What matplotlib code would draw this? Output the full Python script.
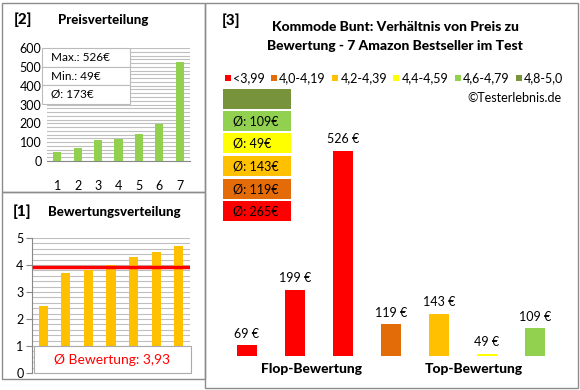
"""Kommode Bunt: Preis/Bewertung-Übersicht (drei Panels)."""
import matplotlib
matplotlib.use("Agg")
import matplotlib.pyplot as plt
from matplotlib.patches import Rectangle
import numpy as np

plt.rcParams["font.family"] = ["Lato", "DejaVu Sans"]

# Daten: Produkte sortiert nach Bewertung
prices = [69, 199, 526, 119, 143, 49, 109]
ratings = [2.5, 3.7, 3.8, 4.0, 4.3, 4.5, 4.7]
band_labels = ["<3,99", "4,0-4,19", "4,2-4,39", "4,4-4,59", "4,6-4,79", "4,8-5,0"]
band_edges = [0, 4.0, 4.2, 4.4, 4.6, 4.8, 5.01]
band_colors = ["#FF0000", "#E36C09", "#FFC000", "#FFFF00", "#92D050", "#77933C"]
group_labels = ["Flop-Bewertung", "Top-Bewertung"]

W, H = 580, 390
fig = plt.figure(figsize=(W / 100, H / 100), dpi=100)
GRID = "#BFBFBF"
BORDER = "#8C8C8C"
HEAVY = 900


def px_axes(x0, y0, x1, y1):
    return fig.add_axes([x0 / W, 1 - y1 / H, (x1 - x0) / W, (y1 - y0) / H])


def px_text(x, y, s, **kw):
    return fig.text(x / W, 1 - y / H, s, **kw)


def px_rect(x0, y0, x1, y1, **kw):
    fig.add_artist(Rectangle((x0 / W, 1 - y1 / H), (x1 - x0) / W, (y1 - y0) / H,
                             transform=fig.transFigure, **kw))


# Panel-Rahmen
px_rect(2, 3, 205, 192, fill=False, ec=BORDER, lw=1)
px_rect(2, 192, 205, 379, fill=False, ec=BORDER, lw=1)
px_rect(205, 3, 578, 388, fill=False, ec=BORDER, lw=1)

bands = np.digitize(ratings, band_edges[1:])
x = np.arange(1, len(prices) + 1)

# [2] Preisverteilung
ax = px_axes(47, 48, 190, 161)
ax.bar(x, sorted(prices), width=0.4, color="#92D050", zorder=3)
ax.set_xlim(0.5, 7.5)
ax.set_ylim(0, 600)
ax.set_yticks(range(0, 601, 100))
ax.set_yticks(range(0, 601, 20), minor=True)
ax.set_xticks(x)
ax.grid(axis="y", which="both", color=GRID, lw=0.8, zorder=0)
for s in ["top", "right", "left"]:
    ax.spines[s].set_visible(False)
ax.spines["bottom"].set_color("#888888")
ax.tick_params(axis="y", which="both", length=0, labelsize=9, pad=4)
ax.tick_params(axis="x", length=0, labelsize=9, pad=14)
px_text(14, 20, "[2]", fontsize=11, fontweight=HEAVY, va="center")
px_text(58, 20, "Preisverteilung", fontsize=9.5, fontweight=HEAVY, va="center")
stats = [f"Max.: {max(prices)}€", f"Min.: {min(prices)}€", f"Ø: {round(np.mean(prices))}€"]
rows = [48, 67, 85, 104]
for i, s in enumerate(stats):
    px_rect(42, rows[i], 130, rows[i + 1], fc="white", ec="#BBBBBB", lw=0.8, zorder=5)
    px_text(51, (rows[i] + rows[i + 1]) / 2, s, fontsize=8.5, va="center", zorder=6)

# [1] Bewertungsverteilung
ax = px_axes(32, 238, 190, 373)
ax.bar(x, ratings, width=0.4, color="#FFC000", zorder=3)
mean_r = np.mean(ratings)
ax.plot([0.6, 7.4], [mean_r, mean_r], color="#FF0000", lw=2.5, zorder=4)
ax.set_xlim(0.5, 7.5)
ax.set_ylim(0, 5)
ax.set_yticks(range(0, 6))
ax.set_yticks(np.arange(0, 5.01, 0.2), minor=True)
ax.set_xticks([])
ax.grid(axis="y", which="both", color=GRID, lw=0.8, zorder=0)
for s in ["top", "right", "bottom"]:
    ax.spines[s].set_visible(False)
ax.spines["left"].set_color("#888888")
ax.tick_params(axis="y", which="major", length=4, color="#888888", labelsize=9, pad=2)
ax.tick_params(axis="y", which="minor", length=0)
ax.add_patch(Rectangle((0.59, 0), 6.94, 1, fc="white", ec="#AAAAAA", lw=0.8,
                       zorder=5, clip_on=False))
ax.text(4.05, 0.5, f"Ø Bewertung: {mean_r:.2f}".replace(".", ","), color="#FF0000",
        fontsize=10, ha="center", va="center", zorder=6)
px_text(13, 212, "[1]", fontsize=11, fontweight=HEAVY, va="center")
px_text(48, 212, "Bewertungsverteilung", fontsize=9.5, fontweight=HEAVY, va="center")

# [3] Preis zu Bewertung
ax = px_axes(223, 119.4, 559, 356)
ax.bar(x, prices, width=0.4, color=[band_colors[b] for b in bands], zorder=3)
for xi, p in zip(x, prices):
    ax.annotate(f"{p} €", (xi, p), xytext=(0, 4), textcoords="offset points",
                ha="center", va="bottom", fontsize=9)
ax.set_xlim(0.5, 7.5)
ax.set_ylim(44, 600)
ax.axis("off")

px_text(222, 21, "[3]", fontsize=11, fontweight=HEAVY, va="center")
px_text(395, 27, "Kommode Bunt: Verhältnis von Preis zu", fontsize=10,
        fontweight=HEAVY, ha="center", va="center")
px_text(395, 46, "Bewertung - 7 Amazon Bestseller im Test", fontsize=10,
        fontweight=HEAVY, ha="center", va="center")
px_text(312, 369, group_labels[0], fontsize=10, fontweight=HEAVY, ha="center", va="center")
px_text(474, 369, group_labels[1], fontsize=10, fontweight=HEAVY, ha="center", va="center")

# Legende: Quadrate + Texte, gleichmäßig zwischen x=226 und x=563 verteilt
renderer = fig.canvas.get_renderer()
leg_texts = [px_text(0, 78, lab, fontsize=9, va="center") for lab in band_labels]
widths = [t.get_window_extent(renderer).width for t in leg_texts]
sq, sq_gap = 6, 2
start, end = 225, 563
gap = (end - start - sum(widths) - len(widths) * (sq + sq_gap)) / (len(widths) - 1)
lx = start
for t, w, col in zip(leg_texts, widths, band_colors):
    px_rect(lx, 75, lx + sq, 81, fc=col, ec="none")
    t.set_x((lx + sq + sq_gap) / W)
    lx += sq + sq_gap + w + gap
px_text(562, 98, "©Testerlebnis.de", fontsize=9, ha="right", va="center")

# Durchschnittspreise je Bewertungsband (oben: bestes Band)
box_tops = [89, 111, 133, 156, 179, 201]
for k, top in enumerate(box_tops):
    b = len(band_labels) - 1 - k
    px_rect(223, top, 291, top + 20, fc=band_colors[b], ec="none")
    members = [p for p, bb in zip(prices, bands) if bb == b]
    if members:
        px_text(233, top + 10, f"Ø: {round(np.mean(members))}€", fontsize=9, va="center")

fig.savefig("out.png", dpi=100)
